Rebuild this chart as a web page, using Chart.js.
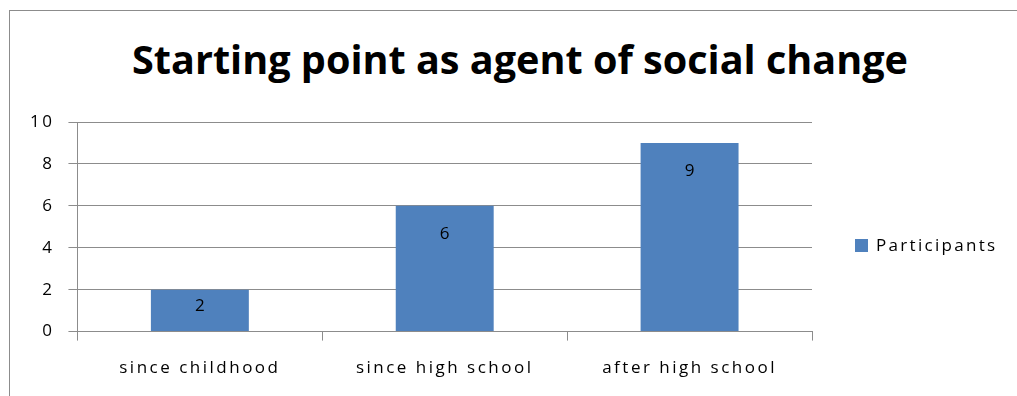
<!DOCTYPE html>
<html>
<head>
<meta charset="utf-8">
<script src="https://cdn.jsdelivr.net/npm/chart.js@4.4.0/dist/chart.umd.min.js"></script>
<style>
    html, body { margin: 0; padding: 0; background: #fff; }
    #wrap { position: relative; width: 1017px; height: 396px; overflow: hidden; }
    #frame {
        position: absolute; left: 9px; top: 10px; width: 1100px; height: 500px;
        border: 1px solid #8c8c8c; box-sizing: border-box;
    }
    #chartBox { position: absolute; left: 0; top: 0; width: 1017px; height: 396px; }
    #title {
        position: absolute; left: 0; top: 39px; width: 1040px; text-align: center;
        font: bold 39.6px/40px "Open Sans", sans-serif; color: #000; white-space: nowrap;
    }
    #legend {
        position: absolute; left: 855px; top: 234px;
        font: 17px/22px "Open Sans", sans-serif; letter-spacing: 2.3px; color: #000;
        display: flex; align-items: center;
    }
    #legend span.sw { width: 13px; height: 13px; background: #4f81bd; margin-right: 8px; display: inline-block; }
</style>
</head>
<body>
<div id="wrap">
    <div id="frame"></div>
    <div id="title">Starting point as agent of social change</div>
    <div id="chartBox"><canvas id="barChart"></canvas></div>
    <div id="legend"><span class="sw"></span><span>Participants</span></div>
</div>
<script>
// chart data
const categories = ['since childhood', 'since high school', 'after high school'];
const participants = [2, 6, 9];
const yTicks = [0, 2, 4, 6, 8, 10];

const barColor = '#4f81bd';
const gridColor = '#8c8c8c';
const labelFont = { family: '"Open Sans", sans-serif', size: 17 };

/**
 * Wide letter spacing, like the source rendering
 */
const spacing = {
    id: 'spacing',
    beforeLayout(chart) { chart.ctx.letterSpacing = '2.5px'; },
    beforeDraw(chart) { chart.ctx.letterSpacing = '2.5px'; }
};

/**
 * Draw value labels inside the top of each bar
 */
const valueLabels = {
    id: 'valueLabels',
    afterDatasetsDraw(chart) {
        const ctx = chart.ctx;
        const meta = chart.getDatasetMeta(0);
        ctx.save();
        ctx.letterSpacing = '0px';
        ctx.font = '17px "Open Sans", sans-serif';
        ctx.fillStyle = '#000';
        ctx.textAlign = 'center';
        ctx.textBaseline = 'middle';
        meta.data.forEach((bar, i) => {
            const h = bar.base - bar.y;
            const y = bar.y + Math.min(28, h * 0.4);
            ctx.fillText(String(participants[i]), bar.x, y);
        });
        ctx.restore();
    }
};

const ctx = document.getElementById('barChart');
new Chart(ctx, {
    type: 'bar',
    data: {
        labels: categories,
        datasets: [{
            label: 'Participants',
            data: participants,
            backgroundColor: barColor,
            borderWidth: 0,
            barPercentage: 0.4,
            categoryPercentage: 1.0
        }]
    },
    options: {
        responsive: true,
        maintainAspectRatio: false,
        animation: false,
        layout: {
            padding: { left: 16, right: 205, top: 122, bottom: 1 }
        },
        plugins: {
            legend: { display: false },
            tooltip: { enabled: false },
            title: { display: false }
        },
        scales: {
            x: {
                offset: true,
                grid: {
                    display: true,
                    offset: true,
                    drawOnChartArea: false,
                    drawTicks: true,
                    tickLength: 9,
                    color: gridColor
                },
                border: { display: true, color: gridColor, width: 1 },
                ticks: {
                    color: '#000',
                    font: labelFont,
                    padding: 17,
                    maxRotation: 0
                }
            },
            y: {
                min: 0,
                max: 10,
                afterBuildTicks(axis) {
                    axis.ticks = yTicks.map(v => ({ value: v }));
                },
                grid: {
                    color: gridColor,
                    tickLength: 9,
                    drawTicks: true
                },
                border: { display: true, color: gridColor, width: 1 },
                ticks: {
                    color: '#000',
                    font: labelFont,
                    padding: 14
                }
            }
        }
    },
    plugins: [spacing, valueLabels]
});
</script>
</body>
</html>
